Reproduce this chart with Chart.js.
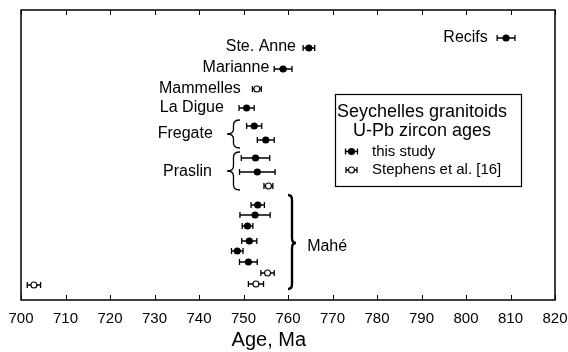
<!DOCTYPE html>
<html>
<head>
<meta charset="utf-8">
<script src="https://cdn.jsdelivr.net/npm/chart.js@4.4.1/dist/chart.umd.min.js"></script>
<style>
html, body { margin: 0; padding: 0; background: #fff; }
#wrap { width: 568px; height: 352px; }
</style>
</head>
<body>
<div id="wrap"><canvas id="chart" width="568" height="352"></canvas></div>
<script>
'use strict';

/* ---- data: U-Pb zircon ages (Ma), errors, and row positions ---- */
const ageTicks = [700, 710, 720, 730, 740, 750, 760, 770, 780, 790, 800, 810, 820];

// this study (filled symbols)
const thisStudyAge = [809.0, 764.7, 758.9, 750.7, 752.4, 755.0, 752.7, 753.1, 753.2, 752.6, 750.9, 751.3, 748.6, 751.1];
const thisStudyErr = [2.0, 1.3, 2.0, 1.7, 1.7, 1.9, 3.2, 4.0, 1.5, 3.4, 1.2, 1.7, 1.3, 2.0];
const thisStudyRow = [26.2, 25.2, 23.1, 19.2, 17.4, 16.0, 14.2, 12.8, 9.5, 8.5, 7.4, 5.9, 4.9, 3.8];

// Stephens et al. [16] (open symbols)
const stephensAge = [753.0, 755.6, 755.4, 752.8, 702.9];
const stephensErr = [1.0, 1.0, 1.5, 1.7, 1.5];
const stephensRow = [21.1, 11.4, 2.7, 1.6, 1.5];

const siteNames = ['Recifs', 'Ste. Anne', 'Marianne', 'Mammelles', 'La Digue', 'Fregate', 'Praslin', 'Mahé'];
const axisTitle = 'Age, Ma';

/* ---- annotation placement (data coordinates) ---- */
const siteLabelPos = [
    { x: 804.9, y: 26.2, align: 'right' },
    { x: 761.8, y: 25.3, align: 'right' },
    { x: 755.8, y: 23.2, align: 'right' },
    { x: 749.4, y: 21.1, align: 'right' },
    { x: 745.6, y: 19.2, align: 'right' },
    { x: 743.1, y: 16.6, align: 'right' },
    { x: 742.9, y: 12.8, align: 'right' },
    { x: 764.3, y: 5.3,  align: 'left'  },
];

const braces = [
    { tip: 746.3, end: 749.2, top: 18.0, bottom: 15.2, mid: 16.6, width: 1.3 },
    { tip: 746.3, end: 749.2, top: 14.8, bottom: 11.0, mid: 12.9, width: 1.3 },
    { tip: 761.8, end: 760.0, top: 10.5, bottom: 1.1,  mid: 5.7,  width: 2.4 },
];

const FONT = "'Liberation Sans', Arial, Helvetica, sans-serif";

function drawErrorBar(ctx, x0, x1, y) {
    ctx.beginPath();
    ctx.moveTo(x0, y); ctx.lineTo(x1, y);
    ctx.moveTo(x0, y - 3); ctx.lineTo(x0, y + 3);
    ctx.moveTo(x1, y - 3); ctx.lineTo(x1, y + 3);
    ctx.stroke();
}

function drawSymbol(ctx, cx, cy, filled) {
    ctx.beginPath();
    if (filled) {
        ctx.arc(cx, cy, 3.6, 0, Math.PI * 2);
        ctx.fillStyle = '#000';
        ctx.fill();
    } else {
        ctx.arc(cx, cy, 3, 0, Math.PI * 2);
        ctx.fillStyle = '#fff';
        ctx.fill();
        ctx.lineWidth = 1.1;
        ctx.stroke();
    }
}

// horizontal error bars under the points
const errorBars = {
    id: 'errorBars',
    beforeDatasetsDraw(chart) {
        const { ctx, scales: { x, y } } = chart;
        ctx.save();
        ctx.strokeStyle = '#000';
        ctx.lineWidth = 1.3;
        chart.data.datasets.forEach(ds => {
            ds.data.forEach(p => {
                drawErrorBar(ctx, x.getPixelForValue(p.x - p.err), x.getPixelForValue(p.x + p.err), y.getPixelForValue(p.y));
            });
        });
        ctx.restore();
    },
};

// frame, inward ticks, site names, braces, legend box, axis title
const decorations = {
    id: 'decorations',
    afterDraw(chart) {
        const { ctx, chartArea: a, scales: { x, y } } = chart;
        ctx.save();
        ctx.strokeStyle = '#000';
        ctx.lineWidth = 1.5;
        ctx.strokeRect(a.left, a.top, a.right - a.left, a.bottom - a.top);

        ctx.lineWidth = 1;
        ageTicks.forEach(v => {
            const px = Math.round(x.getPixelForValue(v)) + 0.5;
            ctx.beginPath();
            ctx.moveTo(px, a.top); ctx.lineTo(px, a.top + 5);
            ctx.moveTo(px, a.bottom); ctx.lineTo(px, a.bottom - 5);
            ctx.stroke();
        });

        ctx.fillStyle = '#000';
        ctx.font = `16px ${FONT}`;
        ctx.textBaseline = 'middle';
        siteNames.forEach((name, i) => {
            const p = siteLabelPos[i];
            ctx.textAlign = p.align;
            ctx.fillText(name, x.getPixelForValue(p.x), y.getPixelForValue(p.y));
        });

        braces.forEach(b => {
            const xt = x.getPixelForValue(b.tip);
            const xe = x.getPixelForValue(b.end);
            const xm = (xt + xe) / 2;
            const yt = y.getPixelForValue(b.top);
            const yb = y.getPixelForValue(b.bottom);
            const ym = y.getPixelForValue(b.mid);
            const q = 5;
            ctx.lineWidth = b.width;
            ctx.beginPath();
            ctx.moveTo(xe, yt);
            ctx.quadraticCurveTo(xm, yt, xm, yt + q);
            ctx.lineTo(xm, ym - q);
            ctx.quadraticCurveTo(xm, ym, xt, ym);
            ctx.quadraticCurveTo(xm, ym, xm, ym + q);
            ctx.lineTo(xm, yb - q);
            ctx.quadraticCurveTo(xm, yb, xe, yb);
            ctx.stroke();
        });

        // axis title sits left of centre in the original
        ctx.textAlign = 'center';
        ctx.textBaseline = 'alphabetic';
        ctx.font = `20px ${FONT}`;
        ctx.fillText(axisTitle, x.getPixelForValue(755.7), 346);

        // legend box
        ctx.textBaseline = 'middle';
        ctx.lineWidth = 1.2;
        ctx.fillStyle = '#fff';
        ctx.fillRect(335, 94, 186, 92);
        ctx.strokeRect(335.5, 94.5, 186, 92);
        ctx.fillStyle = '#000';
        ctx.font = `18px ${FONT}`;
        ctx.fillText('Seychelles granitoids', 422, 112);
        ctx.fillText('U-Pb zircon ages', 422, 131.5);
        ctx.textAlign = 'left';
        ctx.font = `15px ${FONT}`;
        ctx.fillText('this study', 372, 151.5);
        ctx.fillText('Stephens et al. [16]', 372, 170);
        ctx.lineWidth = 1.3;
        drawErrorBar(ctx, 345.5, 357.5, 151.5);
        drawSymbol(ctx, 351.5, 151.5, true);
        drawErrorBar(ctx, 346, 357, 170);
        drawSymbol(ctx, 351.5, 170, false);
        ctx.restore();
    },
};

new Chart(document.getElementById('chart').getContext('2d'), {
    type: 'scatter',
    data: {
        datasets: [
            {
                label: 'this study',
                data: thisStudyAge.map((a, i) => ({ x: a, y: thisStudyRow[i], err: thisStudyErr[i] })),
                pointRadius: 3.6,
                pointBackgroundColor: '#000',
                pointBorderColor: '#000',
                pointBorderWidth: 0,
            },
            {
                label: 'Stephens et al. [16]',
                data: stephensAge.map((a, i) => ({ x: a, y: stephensRow[i], err: stephensErr[i] })),
                pointRadius: 3,
                pointBackgroundColor: '#fff',
                pointBorderColor: '#000',
                pointBorderWidth: 1.1,
            },
        ],
    },
    options: {
        responsive: false,
        animation: false,
        events: [],
        devicePixelRatio: 1,
        layout: { padding: { left: 21, right: 13, top: 10, bottom: 0 } },
        plugins: {
            legend: { display: false },
            tooltip: { enabled: false },
        },
        scales: {
            x: {
                type: 'linear',
                min: 700,
                max: 820,
                afterBuildTicks: scale => { scale.ticks = ageTicks.map(v => ({ value: v })); },
                afterFit: scale => {
                    // fixed axis band under the frame; edge labels may overhang
                    scale.height = 52;
                    scale.paddingLeft = 0;
                    scale.paddingRight = 0;
                },
                grid: { display: false, drawTicks: false, tickLength: 0 },
                border: { display: false },
                ticks: {
                    color: '#000',
                    padding: 10,
                    maxRotation: 0,
                    autoSkip: false,
                    font: { family: FONT, size: 15 },
                },
                title: { display: false },
            },
            y: {
                type: 'linear',
                min: 0,
                max: 29,
                display: false,
            },
        },
    },
    plugins: [errorBars, decorations],
});
</script>
</body>
</html>
